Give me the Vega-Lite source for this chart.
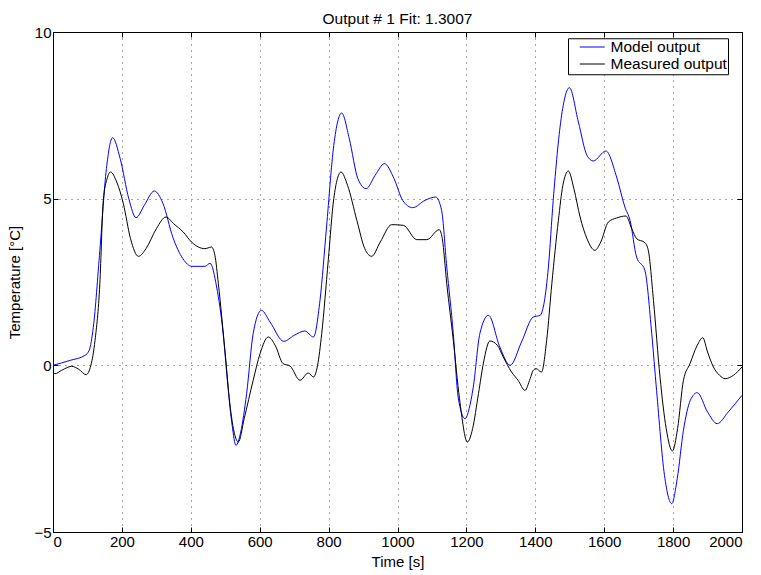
{
  "$schema": "https://vega.github.io/schema/vega-lite/v6.json",
  "width": 689,
  "height": 500,
  "autosize": "none",
  "padding": {"left": 53, "top": 32, "right": 19, "bottom": 43},
  "background": "white",
  "title": {"text": "Output # 1 Fit: 1.3007", "fontSize": 15.5, "fontWeight": "normal", "font": "Liberation Sans", "offset": -2, "color": "black"},
  "config": {
    "font": "Liberation Sans",
    "view": {"stroke": "black", "strokeWidth": 1},
    "axis": {
      "domainColor": "black",
      "tickColor": "black",
      "tickSize": -5,
      "labelColor": "black",
      "labelFontSize": 15,
      "labelFont": "Liberation Sans",
      "titleColor": "black",
      "titleFontSize": 15,
      "titleFont": "Liberation Sans",
      "titleFontWeight": "normal",
      "gridColor": "black",
      "gridDash": [1, 5],
      "gridOpacity": 0.7,
      "gridWidth": 1
    }
  },
  "data": {"values": [
    {"t":0,"v":0.0,"s":"Model output"},{"t":50,"v":0.15,"s":"Model output"},{"t":93,"v":0.3,"s":"Model output"},{"t":105,"v":0.45,"s":"Model output"},{"t":117,"v":1.14,"s":"Model output"},{"t":136,"v":3.45,"s":"Model output"},{"t":155,"v":5.9,"s":"Model output"},{"t":173,"v":6.83,"s":"Model output"},{"t":195,"v":6.2,"s":"Model output"},{"t":220,"v":5.0,"s":"Model output"},{"t":241,"v":4.43,"s":"Model output"},{"t":265,"v":4.8,"s":"Model output"},{"t":294,"v":5.23,"s":"Model output"},{"t":319,"v":4.86,"s":"Model output"},{"t":348,"v":3.84,"s":"Model output"},{"t":377,"v":3.2,"s":"Model output"},{"t":403,"v":2.97,"s":"Model output"},{"t":441,"v":2.97,"s":"Model output"},{"t":456,"v":3.06,"s":"Model output"},{"t":475,"v":2.35,"s":"Model output"},{"t":494,"v":0.95,"s":"Model output"},{"t":508,"v":-0.66,"s":"Model output"},{"t":520,"v":-1.8,"s":"Model output"},{"t":531,"v":-2.4,"s":"Model output"},{"t":545,"v":-2.0,"s":"Model output"},{"t":562,"v":-0.85,"s":"Model output"},{"t":581,"v":0.95,"s":"Model output"},{"t":605,"v":1.65,"s":"Model output"},{"t":630,"v":1.3,"s":"Model output"},{"t":670,"v":0.72,"s":"Model output"},{"t":700,"v":0.9,"s":"Model output"},{"t":731,"v":1.03,"s":"Model output"},{"t":756,"v":0.85,"s":"Model output"},{"t":775,"v":1.95,"s":"Model output"},{"t":794,"v":4.15,"s":"Model output"},{"t":815,"v":6.6,"s":"Model output"},{"t":838,"v":7.57,"s":"Model output"},{"t":860,"v":6.8,"s":"Model output"},{"t":885,"v":5.6,"s":"Model output"},{"t":909,"v":5.3,"s":"Model output"},{"t":935,"v":5.7,"s":"Model output"},{"t":962,"v":6.05,"s":"Model output"},{"t":990,"v":5.6,"s":"Model output"},{"t":1015,"v":4.95,"s":"Model output"},{"t":1044,"v":4.73,"s":"Model output"},{"t":1080,"v":4.95,"s":"Model output"},{"t":1111,"v":5.05,"s":"Model output"},{"t":1128,"v":4.65,"s":"Model output"},{"t":1143,"v":2.95,"s":"Model output"},{"t":1162,"v":0.95,"s":"Model output"},{"t":1176,"v":-0.95,"s":"Model output"},{"t":1196,"v":-1.6,"s":"Model output"},{"t":1208,"v":-1.3,"s":"Model output"},{"t":1220,"v":-0.65,"s":"Model output"},{"t":1239,"v":0.95,"s":"Model output"},{"t":1264,"v":1.5,"s":"Model output"},{"t":1297,"v":0.55,"s":"Model output"},{"t":1327,"v":0.0,"s":"Model output"},{"t":1360,"v":0.7,"s":"Model output"},{"t":1394,"v":1.45,"s":"Model output"},{"t":1414,"v":1.5,"s":"Model output"},{"t":1438,"v":2.95,"s":"Model output"},{"t":1452,"v":4.95,"s":"Model output"},{"t":1475,"v":7.4,"s":"Model output"},{"t":1499,"v":8.33,"s":"Model output"},{"t":1525,"v":7.3,"s":"Model output"},{"t":1550,"v":6.3,"s":"Model output"},{"t":1568,"v":6.13,"s":"Model output"},{"t":1605,"v":6.43,"s":"Model output"},{"t":1636,"v":5.65,"s":"Model output"},{"t":1660,"v":4.75,"s":"Model output"},{"t":1675,"v":4.35,"s":"Model output"},{"t":1694,"v":3.25,"s":"Model output"},{"t":1718,"v":2.85,"s":"Model output"},{"t":1738,"v":0.95,"s":"Model output"},{"t":1752,"v":-0.75,"s":"Model output"},{"t":1775,"v":-3.3,"s":"Model output"},{"t":1796,"v":-4.15,"s":"Model output"},{"t":1812,"v":-3.4,"s":"Model output"},{"t":1830,"v":-1.95,"s":"Model output"},{"t":1850,"v":-1.05,"s":"Model output"},{"t":1870,"v":-0.82,"s":"Model output"},{"t":1900,"v":-1.4,"s":"Model output"},{"t":1928,"v":-1.75,"s":"Model output"},{"t":1960,"v":-1.4,"s":"Model output"},{"t":2000,"v":-0.9,"s":"Model output"},
    {"t":0,"v":-0.2,"s":"Measured output"},{"t":6,"v":-0.25,"s":"Measured output"},{"t":25,"v":-0.15,"s":"Measured output"},{"t":54,"v":-0.03,"s":"Measured output"},{"t":75,"v":-0.12,"s":"Measured output"},{"t":96,"v":-0.28,"s":"Measured output"},{"t":110,"v":0.0,"s":"Measured output"},{"t":122,"v":0.75,"s":"Measured output"},{"t":136,"v":2.45,"s":"Measured output"},{"t":146,"v":4.95,"s":"Measured output"},{"t":157,"v":5.6,"s":"Measured output"},{"t":167,"v":5.8,"s":"Measured output"},{"t":185,"v":5.5,"s":"Measured output"},{"t":204,"v":4.86,"s":"Measured output"},{"t":225,"v":3.8,"s":"Measured output"},{"t":248,"v":3.27,"s":"Measured output"},{"t":270,"v":3.5,"s":"Measured output"},{"t":300,"v":4.1,"s":"Measured output"},{"t":328,"v":4.45,"s":"Measured output"},{"t":350,"v":4.25,"s":"Measured output"},{"t":378,"v":4.0,"s":"Measured output"},{"t":402,"v":3.7,"s":"Measured output"},{"t":441,"v":3.5,"s":"Measured output"},{"t":460,"v":3.55,"s":"Measured output"},{"t":470,"v":3.3,"s":"Measured output"},{"t":480,"v":2.45,"s":"Measured output"},{"t":499,"v":0.45,"s":"Measured output"},{"t":515,"v":-1.3,"s":"Measured output"},{"t":538,"v":-2.3,"s":"Measured output"},{"t":555,"v":-1.6,"s":"Measured output"},{"t":581,"v":-0.45,"s":"Measured output"},{"t":601,"v":0.35,"s":"Measured output"},{"t":625,"v":0.85,"s":"Measured output"},{"t":645,"v":0.6,"s":"Measured output"},{"t":668,"v":0.05,"s":"Measured output"},{"t":688,"v":-0.02,"s":"Measured output"},{"t":717,"v":-0.45,"s":"Measured output"},{"t":741,"v":-0.23,"s":"Measured output"},{"t":756,"v":-0.35,"s":"Measured output"},{"t":768,"v":0.0,"s":"Measured output"},{"t":780,"v":0.95,"s":"Measured output"},{"t":799,"v":3.15,"s":"Measured output"},{"t":815,"v":5.0,"s":"Measured output"},{"t":836,"v":5.8,"s":"Measured output"},{"t":855,"v":5.4,"s":"Measured output"},{"t":882,"v":4.35,"s":"Measured output"},{"t":905,"v":3.5,"s":"Measured output"},{"t":925,"v":3.27,"s":"Measured output"},{"t":950,"v":3.7,"s":"Measured output"},{"t":983,"v":4.22,"s":"Measured output"},{"t":1017,"v":4.2,"s":"Measured output"},{"t":1056,"v":3.77,"s":"Measured output"},{"t":1085,"v":3.77,"s":"Measured output"},{"t":1121,"v":4.07,"s":"Measured output"},{"t":1130,"v":3.8,"s":"Measured output"},{"t":1143,"v":2.45,"s":"Measured output"},{"t":1162,"v":0.75,"s":"Measured output"},{"t":1180,"v":-1.0,"s":"Measured output"},{"t":1203,"v":-2.3,"s":"Measured output"},{"t":1218,"v":-1.9,"s":"Measured output"},{"t":1235,"v":-0.85,"s":"Measured output"},{"t":1250,"v":0.1,"s":"Measured output"},{"t":1268,"v":0.73,"s":"Measured output"},{"t":1290,"v":0.6,"s":"Measured output"},{"t":1307,"v":0.25,"s":"Measured output"},{"t":1331,"v":-0.2,"s":"Measured output"},{"t":1350,"v":-0.45,"s":"Measured output"},{"t":1370,"v":-0.75,"s":"Measured output"},{"t":1385,"v":-0.4,"s":"Measured output"},{"t":1394,"v":-0.15,"s":"Measured output"},{"t":1402,"v":-0.1,"s":"Measured output"},{"t":1418,"v":-0.2,"s":"Measured output"},{"t":1433,"v":0.75,"s":"Measured output"},{"t":1448,"v":2.45,"s":"Measured output"},{"t":1467,"v":4.35,"s":"Measured output"},{"t":1480,"v":5.4,"s":"Measured output"},{"t":1496,"v":5.83,"s":"Measured output"},{"t":1512,"v":5.3,"s":"Measured output"},{"t":1530,"v":4.45,"s":"Measured output"},{"t":1550,"v":3.8,"s":"Measured output"},{"t":1573,"v":3.45,"s":"Measured output"},{"t":1590,"v":3.7,"s":"Measured output"},{"t":1612,"v":4.3,"s":"Measured output"},{"t":1636,"v":4.42,"s":"Measured output"},{"t":1663,"v":4.48,"s":"Measured output"},{"t":1680,"v":4.1,"s":"Measured output"},{"t":1694,"v":3.8,"s":"Measured output"},{"t":1718,"v":3.68,"s":"Measured output"},{"t":1728,"v":3.45,"s":"Measured output"},{"t":1743,"v":1.95,"s":"Measured output"},{"t":1762,"v":-0.35,"s":"Measured output"},{"t":1780,"v":-1.9,"s":"Measured output"},{"t":1798,"v":-2.57,"s":"Measured output"},{"t":1813,"v":-1.9,"s":"Measured output"},{"t":1830,"v":-0.45,"s":"Measured output"},{"t":1849,"v":0.05,"s":"Measured output"},{"t":1870,"v":0.6,"s":"Measured output"},{"t":1886,"v":0.83,"s":"Measured output"},{"t":1900,"v":0.4,"s":"Measured output"},{"t":1917,"v":-0.05,"s":"Measured output"},{"t":1935,"v":-0.3,"s":"Measured output"},{"t":1951,"v":-0.4,"s":"Measured output"},{"t":1975,"v":-0.3,"s":"Measured output"},{"t":2000,"v":-0.05,"s":"Measured output"}
  ]},
  "layer": [
    {
      "mark": {"type": "line", "interpolate": "monotone", "strokeWidth": 1, "clip": true},
      "encoding": {
        "x": {"field": "t", "type": "quantitative", "scale": {"domain": [0, 2000], "nice": false, "zero": false},
              "axis": {"title": "Time [s]", "values": [0,200,400,600,800,1000,1200,1400,1600,1800,2000], "format": "d", "grid": true, "labelPadding": 7, "titlePadding": 5}},
        "y": {"field": "v", "type": "quantitative", "scale": {"domain": [-5, 10], "nice": false, "zero": false},
              "axis": {"title": "Temperature [°C]", "values": [-5, 0, 5, 10], "format": "d", "grid": true, "labelPadding": 7, "titlePadding": 11}},
        "color": {"field": "s", "type": "nominal", "sort": ["Model output", "Measured output"],
                  "scale": {"domain": ["Model output", "Measured output"], "range": ["#0000ff", "#000000"]},
                  "legend": {"title": null, "orient": "none", "legendX": 515, "legendY": 6.25, "strokeColor": "black", "fillColor": "white",
                             "padding": 1, "symbolType": "M-2.5,0H2.5", "symbolSize": 100, "symbolStrokeWidth": 1, "symbolOffset": 15.5,
                             "labelFontSize": 15.5, "labelColor": "black", "labelFont": "Liberation Sans", "rowPadding": 0, "labelOffset": 10.5}}
      }
    },
    {
      "mark": {"type": "line", "opacity": 0},
      "encoding": {
        "x": {"field": "t", "type": "quantitative", "scale": {"domain": [0, 2000], "nice": false, "zero": false},
              "axis": {"orient": "top", "title": null, "labels": false, "grid": false, "domain": false, "values": [0,200,400,600,800,1000,1200,1400,1600,1800,2000]}},
        "y": {"field": "v", "type": "quantitative", "scale": {"domain": [-5, 10], "nice": false, "zero": false},
              "axis": {"orient": "right", "title": null, "labels": false, "grid": false, "domain": false, "values": [-5, 0, 5, 10]}}
      }
    }
  ],
  "resolve": {"axis": {"x": "independent", "y": "independent"}}
}
